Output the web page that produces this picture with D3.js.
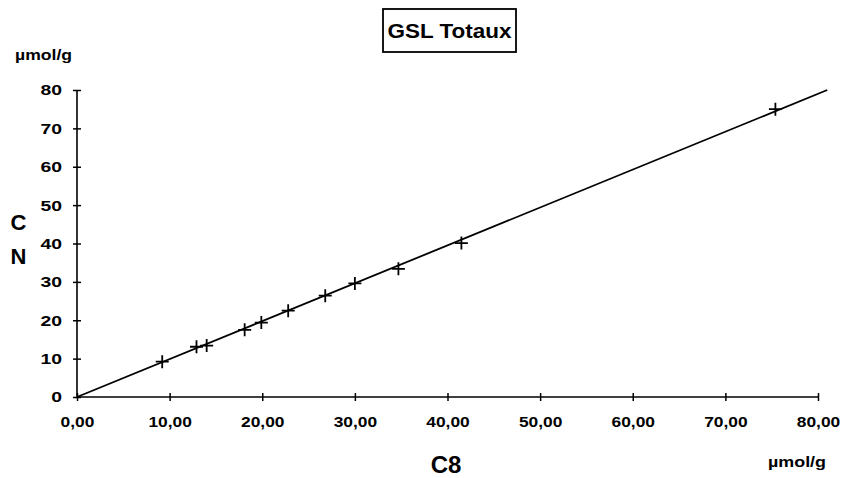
<!DOCTYPE html>
<html><head><meta charset="utf-8">
<script src="https://cdn.jsdelivr.net/npm/d3@7"></script>
<style>body{margin:0;background:#fff}svg{display:block}text{font-family:"Liberation Sans",Arial,sans-serif;font-weight:bold;fill:#000}</style>
</head><body>
<svg id="c" width="842" height="478"></svg>
<script>
const title = "GSL Totaux";
const xTicks = [0,10,20,30,40,50,60,70,80];
const yTicks = [0,10,20,30,40,50,60,70,80];
const c8 = [9.2,12.9,14.0,18.1,19.9,22.8,26.8,30.0,34.7,41.5,75.4];
const cn = [9.2,13.1,13.4,17.5,19.4,22.5,26.4,29.6,33.4,40.1,75.0];
const fitLine = [[0,0],[81,80]];

const svg = d3.select("#c");
const x = d3.scaleLinear().domain([0,80]).range([77,818]);
const y = d3.scaleLinear().domain([0,80]).range([397,90]);

function widen(sel, k){
  sel.each(function(){ const w=this.getComputedTextLength(); d3.select(this).attr("textLength", w*k).attr("lengthAdjust","spacingAndGlyphs"); });
}

// axes
const xa = svg.append("g").attr("transform","translate(0,397)")
  .call(d3.axisBottom(x).tickValues(xTicks).tickSize(4).tickFormat(d=>d3.format(".2f")(d).replace(".",",")));
xa.select(".domain").attr("stroke-width",1.6).attr("d","M"+x(0)+",0H"+x(80));
xa.selectAll(".tick line").attr("y1",-4).attr("stroke-width",1.5);
xa.selectAll(".tick text").attr("dy","0").attr("y",30).style("font-size","15.5px");
const ya = svg.append("g").attr("transform","translate(77,0)")
  .call(d3.axisLeft(y).tickValues(yTicks).tickSize(4).tickPadding(11));
ya.select(".domain").attr("stroke-width",1.6).attr("d","M0,"+y(80)+"V"+y(0));
ya.selectAll(".tick line").attr("x1",-4).attr("x2",4).attr("stroke-width",1.5);
ya.selectAll(".tick text").style("font-size","15.5px");
svg.selectAll(".tick text").style("font-family","'Liberation Sans',Arial,sans-serif").style("font-weight","bold");
widen(xa.selectAll(".tick text"), 1.12);
widen(ya.selectAll(".tick text"), 1.25);

// fit line
svg.append("path").datum(fitLine)
  .attr("d", d3.line().x(d=>x(d[0])).y(d=>y(d[1])))
  .attr("fill","none").attr("stroke","#000").attr("stroke-width",1.8);

// markers
const pts = c8.map((v,i)=>[v,cn[i]]);
svg.append("g").selectAll("path").data(pts).join("path")
  .attr("d", d=>{const px=x(d[0]),py=y(d[1]);return `M${px-6.5},${py}H${px+6.5}M${px},${py-6.5}V${py+6.5}`;})
  .attr("stroke","#000").attr("stroke-width",1.8).attr("fill","none");

// title box
svg.append("rect").attr("x",383).attr("y",9).attr("width",133).attr("height",43)
  .attr("fill","#fff").attr("stroke","#000").attr("stroke-width",1.8);
svg.append("text").attr("x",449.5).attr("y",38).attr("text-anchor","middle").style("font-size","21px")
  .attr("textLength",124).attr("lengthAdjust","spacingAndGlyphs").text(title);

// units & labels
svg.append("text").attr("x",15).attr("y",60).style("font-size","15px")
  .attr("textLength",57).attr("lengthAdjust","spacingAndGlyphs").text("µmol/g");
svg.append("text").attr("x",768).attr("y",467).style("font-size","15px")
  .attr("textLength",58).attr("lengthAdjust","spacingAndGlyphs").text("µmol/g");
svg.append("text").attr("x",18.5).attr("y",230).attr("text-anchor","middle").style("font-size","22px").text("C");
svg.append("text").attr("x",18.5).attr("y",264).attr("text-anchor","middle").style("font-size","22px").text("N");
svg.append("text").attr("x",446).attr("y",473).attr("text-anchor","middle").style("font-size","24px").text("C8");
</script>
</body></html>
